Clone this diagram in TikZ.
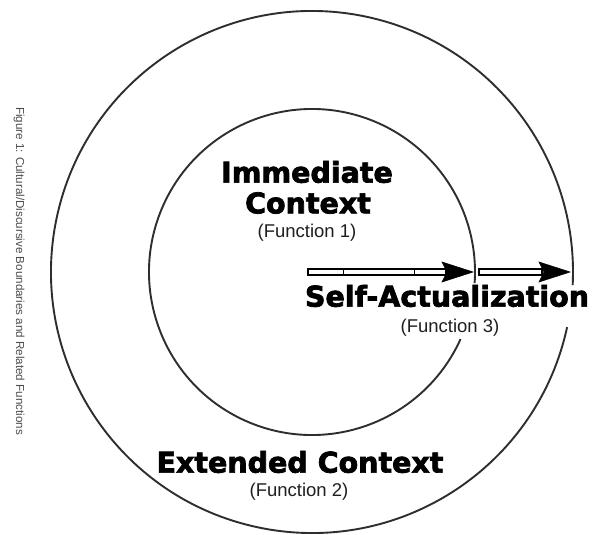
\documentclass[tikz,border=0pt]{standalone}
\usepackage{fontspec}
\setmainfont{Liberation Sans}
\newfontfamily\heavy[FakeBold=2.5]{DejaVu Sans Bold}
\begin{document}
\begin{tikzpicture}[x=1pt,y=-1pt,
  ring/.style={line width=1.9pt,draw=black!82},
  bigtext/.style={font=\heavy\fontsize{28.5}{30}\selectfont,text=black,inner sep=0pt},
  functext/.style={font=\fontsize{18.5}{20}\selectfont,text=black!88,inner sep=0pt},
  shaft/.style={draw=black,line width=1.1pt,fill=white},
  head/.style={fill=black,draw=black,line width=0.6pt,line join=miter}]
\useasboundingbox (0,0) rectangle (598,535);
\fill[white] (0,0) rectangle (598,535);
\coordinate (C) at (312,272);
% circles with gaps on the right side
\draw[ring] (C) ++(24.3:163) arc[start angle=24.3,end angle=363.9,radius=163];
\draw[ring] (C) ++(12.2:261) arc[start angle=12.2,end angle=362.9,radius=261];
% arrow 1
\coordinate (a1s) at (308,272);
\coordinate (a1b) at (446,272);
\coordinate (a1t) at (473,272);
\draw[shaft] ([yshift=-3]a1s) rectangle ([yshift=3]a1b);
\draw[line width=0.9pt] (343,269) -- (343,275);
\draw[line width=0.9pt] (414,269) -- (414,275);
\fill[head] (a1t) -- ([xshift=-31,yshift=-10]a1t) -- ([xshift=-26]a1t) -- ([xshift=-31,yshift=10]a1t) -- cycle;
% arrow 2
\coordinate (a2s) at (479,272);
\coordinate (a2b) at (542,272);
\coordinate (a2t) at (570,272);
\draw[shaft] ([yshift=-3]a2s) rectangle ([yshift=3]a2b);
\fill[head] (a2t) -- ([xshift=-31,yshift=-10]a2t) -- ([xshift=-26]a2t) -- ([xshift=-31,yshift=10]a2t) -- cycle;
% texts
\node[bigtext] (imm) at (307,172) {Immediate};
\node[bigtext] (con) at (308,203) {Context};
\node[functext] (f1) at (307,233) {(Function 1)};
\node[bigtext] (self) at (447,296) {Self-Actualization};
\node[functext] (f3) at (450,328) {(Function 3)};
\node[bigtext] (ext) at (300,462) {Extended Context};
\node[functext] (f2) at (299,492) {(Function 2)};
\node[rotate=-90,font=\fontsize{11.6}{12}\selectfont,text=black!70,inner sep=0pt] (cap) at (19,271) {Figure 1: Cultural/Discursive Boundaries and Related Functions};
\end{tikzpicture}
\end{document}
